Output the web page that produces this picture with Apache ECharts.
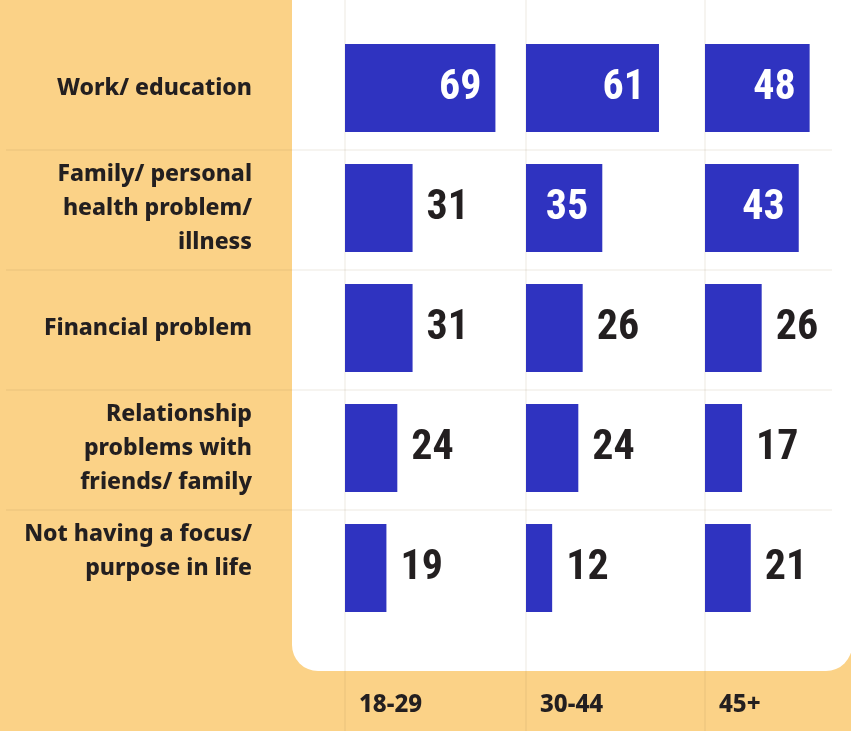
<!DOCTYPE html>
<html>
<head>
<meta charset="utf-8">
<script src="https://cdn.jsdelivr.net/npm/echarts@6/dist/echarts.min.js"></script>
<style>
  html, body { margin: 0; padding: 0; }
  #chart { width: 851px; height: 731px; }
</style>
</head>
<body>
<div id="chart"></div>
<script>
// categories (top to bottom)
const reasons = [
  'Work/ education',
  'Family/ personal\nhealth problem/\nillness',
  'Financial problem',
  'Relationship\nproblems with\nfriends/ family',
  'Not having a focus/\npurpose in life\n'
];
// age groups (columns)
const ageGroups = ['18-29', '30-44', '45+'];
// values per age group, same order as reasons
const age18to29 = [69, 31, 31, 24, 19];
const age30to44 = [61, 35, 26, 24, 12];
const age45plus = [48, 43, 26, 17, 21];

const seriesValues = [age18to29, age30to44, age45plus];

const BLUE = '#2f33c0';
const ORANGE = '#fbd287';
const INK = '#231f20';
const LINE = 'rgba(140, 110, 70, 0.16)';
const NUM_FONT = "'Roboto Condensed', 'DejaVu Sans Condensed', sans-serif";

const gridTop = 28;
const lineTop = 30;
const rowH = 120;
const colLeft = [345, 526, 705];
const colWidth = [181, 179, 146];
const pxPerUnit = 2.18;

const chart = echarts.init(document.getElementById('chart'));

const grids = colLeft.map((left, i) => ({
  left: left,
  top: gridTop,
  width: colWidth[i],
  height: rowH * reasons.length
}));

const xAxes = colLeft.map((_, i) => ({
  type: 'value',
  gridIndex: i,
  min: 0,
  max: colWidth[i] / pxPerUnit,
  show: false
}));

const yAxes = colLeft.map((_, i) => ({
  type: 'category',
  gridIndex: i,
  inverse: true,
  data: reasons,
  axisLine: { show: false },
  axisTick: { show: false },
  splitLine: { show: false },
  axisLabel: {
    show: i === 0,
    margin: 93,
    align: 'right',
    color: INK,
    fontFamily: 'Noto Sans',
    fontWeight: 800,
    fontSize: 23,
    lineHeight: 34
  }
}));

// values >= 35 sit inside the bar in white, the rest outside in dark ink
const series = seriesValues.map((vals, i) => ({
  type: 'bar',
  xAxisIndex: i,
  yAxisIndex: i,
  barWidth: 88,
  itemStyle: { color: BLUE },
  data: vals.map((v) => {
    const inside = v >= 35;
    return {
      value: v,
      label: {
        show: true,
        position: inside ? 'insideRight' : 'right',
        distance: 14,
        color: inside ? '#fff' : INK,
        fontFamily: NUM_FONT,
        fontWeight: 'bold',
        fontSize: 42
      }
    };
  })
}));

const graphic = [
  {
    type: 'rect',
    z: -10,
    shape: { x: 292, y: -30, width: 560, height: 701, r: 26 },
    style: { fill: '#fff' }
  }
];
// row separators
for (let k = 1; k < reasons.length; k++) {
  graphic.push({
    type: 'line',
    z: -5,
    shape: { x1: 6, y1: lineTop + k * rowH, x2: 832, y2: lineTop + k * rowH },
    style: { stroke: LINE, lineWidth: 1 }
  });
}
// column lines
colLeft.forEach((x) => {
  graphic.push({
    type: 'line',
    z: -5,
    shape: { x1: x, y1: 0, x2: x, y2: 731 },
    style: { stroke: LINE, lineWidth: 1 }
  });
});

const titles = ageGroups.map((g, i) => ({
  text: g,
  left: colLeft[i] + 14,
  top: 693,
  padding: 0,
  textStyle: {
    color: INK,
    fontFamily: 'Noto Sans',
    fontWeight: 800,
    fontSize: 24
  }
}));

chart.setOption({
  backgroundColor: ORANGE,
  animation: false,
  title: titles,
  grid: grids,
  xAxis: xAxes,
  yAxis: yAxes,
  graphic: graphic,
  series: series
});
</script>
</body>
</html>
